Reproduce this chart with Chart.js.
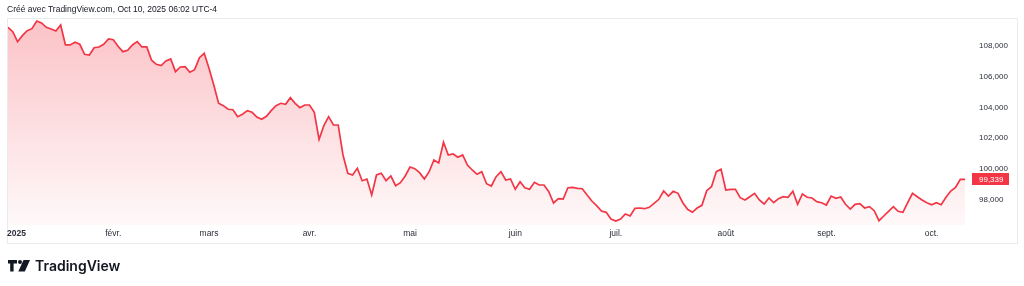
<!DOCTYPE html>
<html>
<head>
<meta charset="utf-8">
<script src="https://cdn.jsdelivr.net/npm/chart.js@4.4.1/dist/chart.umd.min.js"></script>
<style>
  body { margin: 0; background: #fff; }
  #wrap { position: relative; width: 1024px; height: 286px; }
  #caption { position: absolute; left: 7px; top: 4px; font: 8.5px "Liberation Sans", Arial, sans-serif; color: #131722; }
  #logo { position: absolute; left: 8px; top: 257px; display: flex; align-items: center; }
  #logo span { font: 600 14px Inter, "Liberation Sans", sans-serif; color: #131722; margin-left: 5px; }
</style>
</head>
<body>
<div id="wrap">
  <canvas id="myChart" width="1024" height="286"></canvas>
  <div id="caption">Créé avec TradingView.com, Oct 10, 2025 06:02 UTC-4</div>
  <div id="logo">
    <svg width="22" height="12" viewBox="0 0 22 12">
      <path d="M0 0H9V3.5H5.6V11.5H2.2V3.5H0Z" fill="#131722"/>
      <circle cx="12" cy="2" r="2" fill="#131722"/>
      <path d="M15.5 0H22L16.8 11.5H10.3Z" fill="#131722"/>
    </svg>
    <span>TradingView</span>
  </div>
</div>
<script>
// DATA
const values = [
  109190, 108905, 108257, 108646, 108970, 109099, 109598, 109469, 109190, 109080,
  108950, 109339, 108043, 108043, 108218, 108088, 107440, 107395, 107868, 107913,
  108088, 108432, 108386, 107959, 107609, 107700, 108043, 108257, 107913, 107913,
  107052, 106792, 106702, 107006, 107136, 106313, 106617, 106637, 106274, 106442,
  107220, 107505, 106533, 105451, 104265, 104110, 103876, 103850, 103397, 103552,
  103786, 103682, 103377, 103228, 103423, 103786, 104110, 104265, 104200, 104628,
  104265, 103980, 104155, 104155, 103682, 101932, 102814, 103397, 102859, 102859,
  100915, 99729, 99619, 100053, 99250, 99360, 98323, 99619, 99729, 99250,
  99554, 98926, 99120, 99554, 100137, 100027, 99768, 99360, 99833, 100591,
  100397, 101738, 100915, 100980, 100766, 100915, 100267, 99943, 99664, 99833,
  99055, 98906, 99509, 99833, 99295, 99360, 98692, 99185, 98796, 98692,
  99146, 98971, 98971, 98537, 97805, 98083, 98064, 98796, 98822, 98757,
  98731, 98323, 97934, 97630, 97286, 97202, 96768, 96638, 96768, 97092,
  96962, 97461, 97481, 97435, 97526, 97785, 98044, 98582, 98258, 98563,
  98433, 97824, 97396, 97202, 97481, 97656, 98602, 98861, 99833, 99988,
  98647, 98692, 98692, 98148, 97999, 98213, 98433, 97999, 97740, 98129,
  97824, 98083, 98213, 98174, 98563, 97720, 98388, 98174, 98129, 97889,
  97824, 97675, 98258, 98109, 98193, 97720, 97416, 97720, 97759, 97481,
  97565, 97306, 96658, 96962, 97267, 97565, 97267, 97202, 97824, 98433,
  98213, 97999, 97824, 97694, 97824, 97694, 98174, 98582, 98822, 99340,
  99339
];
const monthTicks = [0, 22, 42, 63, 84, 106, 127, 150, 171, 193];
const monthLabels = ["2025", "févr.", "mars", "avr.", "mai", "juin", "juil.", "août", "sept.", "oct."];
const priceTicks = [98000, 100000, 102000, 104000, 106000, 108000];
const lastPrice = values[values.length - 1];

const RED = '#f23645';
const TEXT = '#2a2e39';
const FONT = '"Liberation Sans", Arial, sans-serif';

// pane border, year label, last price tag
const extras = {
  id: 'extras',
  beforeDraw(chart) {
    const c = chart.ctx;
    c.save();
    c.strokeStyle = '#e9ebf0';
    c.lineWidth = 1;
    c.strokeRect(7.5, 18.5, 1010, 225);
    c.restore();
  },
  afterDraw(chart) {
    const c = chart.ctx;
    const y = chart.scales.y.getPixelForValue(lastPrice);
    c.save();
    c.fillStyle = RED;
    c.fillRect(972, Math.round(y) - 6, 37, 12);
    c.fillStyle = '#fff';
    c.font = '8px ' + FONT;
    c.textBaseline = 'middle';
    c.fillText(lastPrice.toLocaleString('en-US'), 979, y);
    c.fillStyle = TEXT;
    c.font = 'bold 8.5px ' + FONT;
    c.fillText(monthLabels[0], 7, 234);
    c.restore();
  }
};

const ctx = document.getElementById('myChart').getContext('2d');

const chart = new Chart(ctx, {
  type: 'line',
  data: {
    datasets: [{
      data: values.map((v, i) => ({ x: i, y: v })),
      borderColor: RED,
      borderWidth: 1.7,
      pointRadius: 0,
      tension: 0,
      fill: 'start',
      backgroundColor: (c) => {
        const area = c.chart.chartArea;
        if (!area) return 'rgba(242,54,69,0.2)';
        const g = c.chart.ctx.createLinearGradient(0, 20, 0, area.bottom);
        g.addColorStop(0, 'rgba(242,54,69,0.30)');
        g.addColorStop(1, 'rgba(242,54,69,0.03)');
        return g;
      }
    }]
  },
  options: {
    responsive: false,
    animation: false,
    devicePixelRatio: 1,
    layout: { padding: { left: 8, top: 18, right: 6, bottom: 41 } },
    plugins: { legend: { display: false }, tooltip: { enabled: false } },
    scales: {
      x: {
        type: 'linear',
        min: 0,
        max: 200.6,
        border: { display: false },
        grid: { display: false, drawTicks: false },
        afterBuildTicks: (s) => { s.ticks = monthTicks.map(v => ({ value: v })); },
        afterFit: (s) => { s.height = 20; },
        ticks: {
          autoSkip: false,
          maxRotation: 0,
          padding: 4,
          color: TEXT,
          font: { size: 8.5, family: FONT },
          callback: (v) => { const k = monthTicks.indexOf(v); return k > 0 ? monthLabels[k] : ''; }
        }
      },
      y: {
        position: 'right',
        min: 96380,
        max: 109790,
        border: { display: false },
        grid: { display: false, drawTicks: false },
        afterBuildTicks: (s) => { s.ticks = priceTicks.map(v => ({ value: v })); },
        afterFit: (s) => { s.width = 50; },
        ticks: {
          padding: 11,
          color: TEXT,
          font: { size: 8, family: FONT },
          callback: (v) => v.toLocaleString('en-US')
        }
      }
    }
  },
  plugins: [extras]
});
</script>
</body>
</html>
